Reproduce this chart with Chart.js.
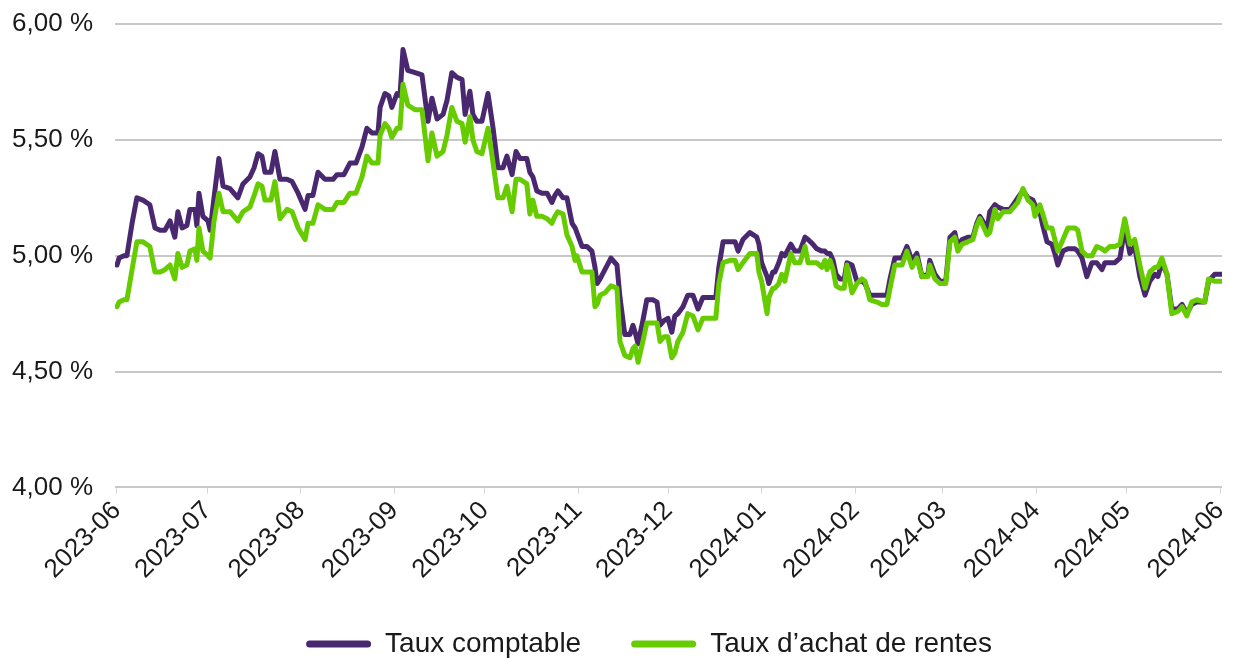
<!DOCTYPE html>
<html><head><meta charset="utf-8">
<script src="https://cdn.jsdelivr.net/npm/chart.js@4"></script>
<style>html,body{margin:0;padding:0;background:#fff}#wrap{width:1233px;height:658px;position:relative}</style>
</head><body><div id="wrap"><canvas id="c"></canvas></div>
<script>
// Day offsets from 2023-06-01
const days = [0,0.7,2.3,3.3,5.0,6.6,8.6,10.9,12.6,14.3,15.9,17.6,19.2,20.2,21.6,23.2,24.2,25.9,26.5,27.2,28.5,30.2,30.9,32.2,33.8,35.2,37.5,40.1,41.8,44.1,45.5,46.8,48.1,49.1,51.1,52.4,54.1,56.4,58.1,60.1,62.4,63.4,65.0,66.7,69.0,71.7,73.0,75.3,77.3,79.3,81.3,82.9,84.6,86.6,87.3,88.9,90.2,91.2,92.9,93.9,94.9,96.5,98.9,101.2,103.2,104.5,106.2,108.2,109.5,111.1,112.8,114.5,115.5,117.1,118.1,119.4,121.1,123.1,124.8,126.4,128.1,129.4,131.1,132.4,133.7,136.0,137.0,138.0,139.3,141.0,142.7,144.3,145.3,146.3,148.0,149.3,151.0,152.0,152.6,154.3,155.9,157.6,158.6,159.3,160.3,161.9,163.9,165.9,166.9,168.5,170.2,171.2,171.9,172.9,174.5,175.8,177.8,179.2,180.2,181.5,182.8,184.1,185.1,186.1,187.8,189.4,191.1,192.8,194.4,196.8,198.7,199.7,201.1,203.4,205.1,206.1,207.7,210.0,212.3,213.0,213.9,215.7,216.3,217.6,218.3,219.6,220.6,221.6,223.6,224.9,226.6,228.3,229.3,230.9,232.2,233.9,234.9,235.6,236.6,237.6,238.6,239.9,241.3,242.2,243.9,245.5,247.2,248.2,249.8,252.2,253.8,255.5,256.5,258.1,260.5,262.1,263.8,265.4,267.1,269.1,269.7,271.4,273.1,275.0,276.4,278.0,279.0,280.4,282.3,284.0,285.3,286.3,287.7,288.7,289.6,291.3,292.3,294.0,296.3,298.9,300.6,302.3,303.9,304.6,306.2,307.2,308.6,310.2,311.2,312.2,313.9,315.5,317.9,318.8,320.2,321.8,323.5,325.1,326.8,327.8,329.5,331.1,332.8,334.4,336.1,337.7,339.4,341.1,342.7,344.4,345.4,346.7,348.4,350.0,352.0,353.4,355.0,356.6,358.3,360.9,362.2,364.2,366.6];

const tauxComptable = [4.96,4.99,5.00,5.00,5.14,5.25,5.24,5.22,5.12,5.11,5.11,5.15,5.08,5.19,5.12,5.13,5.20,5.20,5.13,5.27,5.17,5.15,5.11,5.25,5.42,5.30,5.29,5.25,5.31,5.34,5.38,5.44,5.43,5.36,5.36,5.45,5.33,5.33,5.32,5.27,5.20,5.26,5.26,5.36,5.33,5.33,5.35,5.35,5.40,5.40,5.47,5.55,5.53,5.53,5.64,5.70,5.69,5.64,5.70,5.69,5.89,5.80,5.79,5.78,5.58,5.68,5.59,5.61,5.67,5.79,5.77,5.76,5.61,5.71,5.61,5.58,5.58,5.70,5.55,5.38,5.38,5.43,5.35,5.45,5.42,5.42,5.36,5.34,5.28,5.27,5.27,5.23,5.26,5.28,5.25,5.25,5.14,5.12,5.10,5.04,5.04,5.02,4.95,4.88,4.90,4.94,4.99,4.96,4.82,4.66,4.66,4.70,4.67,4.62,4.72,4.81,4.81,4.80,4.70,4.72,4.73,4.67,4.74,4.75,4.78,4.83,4.83,4.77,4.82,4.82,4.82,4.95,5.06,5.06,5.06,5.02,5.07,5.10,5.08,5.05,4.97,4.91,4.88,4.93,4.93,4.97,5.01,5.00,5.05,5.02,5.02,5.08,5.07,5.05,5.03,5.02,5.02,5.01,5.01,4.98,4.92,4.90,4.90,4.97,4.96,4.89,4.89,4.88,4.83,4.83,4.83,4.83,4.90,4.99,4.99,5.04,4.98,5.01,4.91,4.92,4.98,4.92,4.89,4.89,5.08,5.10,5.04,5.07,5.08,5.08,5.14,5.17,5.14,5.11,5.19,5.22,5.21,5.20,5.20,5.25,5.28,5.25,5.24,5.22,5.19,5.13,5.06,5.05,5.01,4.96,5.02,5.03,5.03,5.02,4.99,4.91,4.97,4.97,4.94,4.97,4.97,4.97,4.99,5.12,5.01,5.04,4.91,4.83,4.89,4.92,4.91,4.97,4.92,4.77,4.77,4.79,4.75,4.79,4.80,4.80,4.89,4.92,4.92];

const tauxAchatRentes = [4.78,4.80,4.81,4.81,4.94,5.06,5.06,5.04,4.93,4.93,4.94,4.96,4.90,5.01,4.95,4.96,5.02,5.03,4.98,5.12,5.02,5.00,4.99,5.15,5.27,5.19,5.19,5.15,5.19,5.21,5.26,5.31,5.30,5.24,5.24,5.32,5.16,5.20,5.19,5.12,5.07,5.14,5.14,5.22,5.20,5.20,5.23,5.23,5.27,5.27,5.34,5.43,5.40,5.40,5.52,5.57,5.55,5.51,5.55,5.55,5.74,5.65,5.63,5.63,5.41,5.53,5.43,5.45,5.52,5.64,5.58,5.57,5.49,5.60,5.50,5.45,5.44,5.55,5.40,5.25,5.25,5.30,5.19,5.33,5.33,5.31,5.18,5.24,5.17,5.17,5.16,5.14,5.17,5.19,5.18,5.09,5.04,4.98,5.00,4.93,4.93,4.93,4.78,4.79,4.83,4.84,4.87,4.86,4.63,4.57,4.56,4.60,4.61,4.54,4.63,4.71,4.71,4.71,4.63,4.65,4.65,4.56,4.58,4.63,4.67,4.75,4.74,4.68,4.73,4.73,4.73,4.88,4.97,4.98,4.98,4.94,4.97,5.01,5.01,4.93,4.89,4.75,4.82,4.86,4.86,4.88,4.92,4.89,5.01,4.97,4.97,5.04,4.97,4.97,4.97,4.95,4.98,4.94,4.98,4.94,4.87,4.86,4.86,4.96,4.84,4.88,4.90,4.89,4.81,4.80,4.79,4.79,4.86,4.96,4.96,5.02,4.95,4.99,4.91,4.91,4.96,4.90,4.88,4.88,5.06,5.08,5.02,5.05,5.06,5.07,5.13,5.16,5.12,5.09,5.10,5.20,5.16,5.19,5.19,5.23,5.29,5.24,5.22,5.17,5.22,5.18,5.12,5.12,5.07,5.02,5.07,5.12,5.12,5.11,5.02,5.00,5.00,5.04,5.03,5.02,5.04,5.04,5.05,5.16,5.05,5.07,4.96,4.86,4.93,4.95,4.95,4.99,4.92,4.75,4.76,4.78,4.74,4.80,4.81,4.80,4.90,4.89,4.89];

const monthTickDays = [0,30,61,92,122,153,183,214,245,274,305,335,366];
const monthLabels = ['2023-06','2023-07','2023-08','2023-09','2023-10','2023-11','2023-12','2024-01','2024-02','2024-03','2024-04','2024-05','2024-06'];
const seriesNames = ['Taux comptable', 'Taux d\u2019achat de rentes'];
const seriesColors = ['#4a2870', '#66cc00'];

const FONT = "'Liberation Sans', Arial, sans-serif";
const toPts = (vals) => days.map((d, i) => ({x: d, y: vals[i]}));

// place the legend (centre x ~649, text centre y ~643)
const legendPlace = {
  id: 'legendPlace',
  afterLayout(chart) {
    const lg = chart.legend;
    if (!lg) return;
    const dx = 649 - (lg.left + lg.right) / 2;
    const h = lg.bottom - lg.top;
    const newTop = 643 - 63;
    lg.left += dx; lg.right += dx;
    lg.top = newTop; lg.bottom = newTop + h;
  }
};

new Chart(document.getElementById('c'), {
  type: 'line',
  data: {
    datasets: [
      {label: seriesNames[0], data: toPts(tauxComptable), borderColor: seriesColors[0], backgroundColor: seriesColors[0], borderWidth: 5, pointRadius: 0, tension: 0, order: 1, borderJoinStyle: 'round', borderCapStyle: 'round'},
      {label: seriesNames[1], data: toPts(tauxAchatRentes), borderColor: seriesColors[1], backgroundColor: seriesColors[1], borderWidth: 5, pointRadius: 0, tension: 0, order: 0, borderJoinStyle: 'round', borderCapStyle: 'round'}
    ]
  },
  plugins: [legendPlace],
  options: {
    responsive: true,
    maintainAspectRatio: false,
    animation: false,
    layout: {padding: {left: 12, right: 11, top: 24, bottom: -17}},
    scales: {
      x: {
        type: 'linear',
        min: -0.66, max: 366.66,
        afterBuildTicks: (s) => { s.ticks = monthTickDays.map(v => ({value: v})); },
        afterFit: (s) => { s.paddingLeft = 0; s.paddingRight = 0; },
        ticks: {
          autoSkip: false, minRotation: 45, maxRotation: 45,
          color: '#1a1a1a', font: {family: FONT, size: 26},
          padding: 2,
          callback: (v, i) => monthLabels[i]
        },
        grid: {drawOnChartArea: false, drawTicks: true, tickLength: 6, color: '#d6d6d6', lineWidth: 1},
        border: {display: false}
      },
      y: {
        min: 4, max: 6,
        afterFit: (s) => { s.width = 103; s.paddingTop = 0; s.paddingBottom = 0; },
        ticks: {
          stepSize: 0.5, color: '#1a1a1a', font: {family: FONT, size: 26}, padding: 22,
          callback: (v) => v.toFixed(2).replace('.', ',') + ' %'
        },
        grid: {color: '#c8c8c8', lineWidth: 2, drawTicks: false},
        border: {display: false}
      }
    },
    plugins: {
      tooltip: {enabled: false},
      legend: {
        position: 'bottom',
        labels: {
          color: '#1a1a1a', font: {family: FONT, size: 28},
          boxWidth: 65, boxHeight: 7, padding: 50,
          useBorderRadius: true, borderRadius: 3.5,
          generateLabels: (chart) => chart.data.datasets.map((ds, i) => ({
            text: ds.label, fillStyle: ds.borderColor, strokeStyle: ds.borderColor,
            lineWidth: 0, hidden: false, datasetIndex: i, fontColor: '#1a1a1a',
            borderRadius: 3.5
          }))
        }
      }
    }
  }
});
</script>
</body></html>
